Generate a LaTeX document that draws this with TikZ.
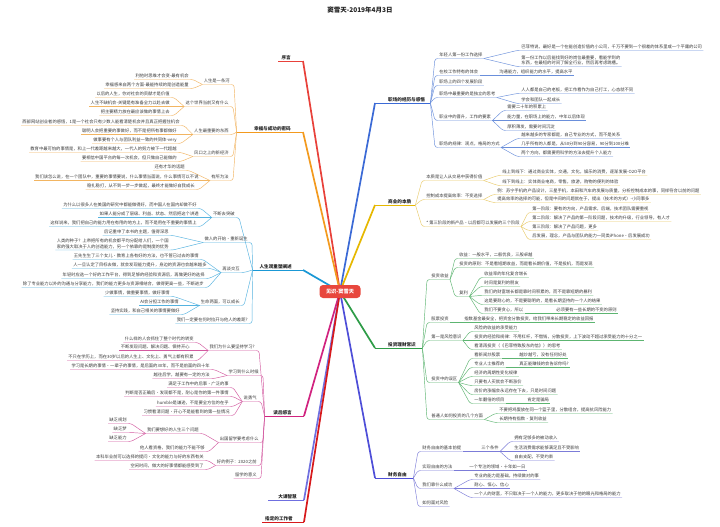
\documentclass[tikz,border=0pt]{standalone}
\usepackage{fontspec}
\setmainfont{Noto Sans CJK SC}
\usetikzlibrary{backgrounds}
\definecolor{txt}{HTML}{3A3A3A}
\definecolor{mtxt}{HTML}{222222}
\definecolor{cred}{HTML}{E8473D}
\definecolor{xuR}{HTML}{E8413A}
\definecolor{orM}{HTML}{F39A1E}\definecolor{orS}{HTML}{F2B562}
\definecolor{cyM}{HTML}{1A98D5}\definecolor{cyS}{HTML}{55B3E0}
\definecolor{mgM}{HTML}{D1237F}\definecolor{mgS}{HTML}{D35AA0}
\definecolor{pwM}{HTML}{6F6FE0}
\definecolor{rdM}{HTML}{D7191C}
\definecolor{blM}{HTML}{3B6AD6}\definecolor{blS}{HTML}{6A8FDB}
\definecolor{ylM}{HTML}{E6B800}\definecolor{ylS}{HTML}{E9CB6A}
\definecolor{grM}{HTML}{2E9C47}\definecolor{grS}{HTML}{5DB571}
\definecolor{vtM}{HTML}{4E4ED8}\definecolor{vtS}{HTML}{7C7CD8}
\tikzset{
  t/.style={font=\fontsize{4.3}{5.6}\selectfont, text=txt, inner xsep=1.2pt, inner ysep=1.1pt},
  Lt/.style={t, anchor=south east},
  Rt/.style={t, anchor=south west},
  mn/.style={font=\fontsize{4.6}{5.5}\selectfont\bfseries, text=mtxt, inner xsep=0pt, inner ysep=1.2pt},
  ML/.style={mn, anchor=south east, align=right},
  MR/.style={mn, anchor=south west, align=left},
  sub/.style={line width=0.45pt, rounded corners=2.5pt},
  mainc/.style={line width=1.7pt, rounded corners=6pt},
  mainu/.style={line width=0.6pt},
}
\newcommand\lk[3]{\draw[sub,#1] (#2.south west) -- ([xshift=3pt]#3.south east) -- (#3.south west);}
\newcommand\rk[3]{\draw[sub,#1] (#2.south east) -- ([xshift=-3pt]#3.south west) -- (#3.south east);}
\begin{document}
\begin{tikzpicture}[x=1pt,y=-1pt]
\useasboundingbox (0,0) rectangle (720,527);
% title and centre
\node[font=\fontsize{6.5}{7}\selectfont\bfseries, text=mtxt] (title) at (360,10) {窦雪天-2019年4月3日};
\node[fill=cred, rounded corners=3.5pt, text=white, font=\fontsize{5.2}{6}\selectfont\bfseries, minimum width=41pt, minimum height=13pt, inner sep=1pt] (C) at (340,291.5) {见识-窦雪天};
% main labels
\node[ML, text width=25pt] (M1) at (303,61) {序言\hspace*{12pt}};
\node[ML, text width=66pt] (M2) at (303,132) {幸福与成功的密码\hspace*{12pt}};
\node[ML, text width=50pt] (M3) at (303,270) {人生观重塑阐述\hspace*{11pt}};
\node[ML, text width=39pt] (M4) at (304,416) {读后感言\hspace*{12pt}};
\node[ML, text width=36pt] (M5) at (304,500) {大课智慧\hspace*{7pt}};
\node[ML, text width=42pt] (M6) at (304,522) {指定的工作者\hspace*{11pt}};
\node[MR, text width=55pt] (R1) at (375,103) {\hspace*{13pt}职场的经历与感悟};
\node[MR, text width=40pt] (R2) at (375,205) {\hspace*{13pt}商业的本质};
\node[MR, text width=47pt] (R3) at (375,348) {\hspace*{13pt}投资理财常识};
\node[MR, text width=38pt] (R4) at (375,478) {\hspace*{13pt}财务自由};
% orange group
\node[Lt] (c1) at (231,84.5) {人生是一条河};
\node[Lt] (c1a) at (190,79.5) {利他时思维才会变-最有机会};
\node[Lt] (c1b) at (190,88.5) {幸福感来自两个方面-最能持续的是创造能量};
\node[Lt] (c2) at (230,106.5) {这个世界当前又有什么};
\node[Lt] (c2a) at (171,97.5) {以后的人生，你对社会的贡献才是价值};
\node[Lt] (c2b) at (171,106.5) {人生不缺机会-关键是有准备全力以赴去做};
\node[Lt] (c2c) at (171,115.5) {把主要精力放在最应该做的事情上去};
\node[Lt] (c3) at (230,134.5) {人生最重要的东西};
\node[Lt] (c3a) at (181,125.5) {西部网站创业者的感悟，1是一个社会只有少数人能看清楚机会并且真正把握住机会};
\node[Lt] (c3b) at (178,134.5) {聪明人会把重要的事做好，而不是把所有事都做好};
\node[Lt] (c3c) at (178,143.5) {做事要有个人与团队利益一致的共同体-very};
\node[Lt] (c4) at (230,156.5) {风口之上的新经济};
\node[Lt] (c4a) at (178,152.5) {教育中最可怕的事情是，和上一代差距越来越大，一代人的努力被下一代超越};
\node[Lt] (c4b) at (178,161.5) {要相信中国平台的每一次机会，但只做自己能做的};
\node[Lt] (c5) at (230,180.5) {有所为法};
\node[Lt] (c5a) at (186,170.5) {还有才华的话题};
\node[Lt] (c5b) at (200,180.5) {我们该怎么说，在一个团队中，重要的事情要说，什么事情当面说，什么事情可以不说};
\node[Lt] (c5c) at (196,189.5) {稳扎稳打，从不到一步一步做起，最终才能做好自我成长};
% cyan group
\node[Lt] (d1) at (236,217.5) {不断去突破};
\node[Lt] (d1a) at (198,208.5) {为什么以很多人在美国的研究中都能做得好，而中国人在国内却做不好};
\node[Lt] (d1b) at (200,217.5) {如果人能分成了层级、利益、状态、然后把这个讲透};
\node[Lt] (d1c) at (198,226.5) {这样说来，我们把自己的能力用在有用的地方上，而不是用在不重要的事情上};
\node[Lt] (d2) at (249,242.5) {做人的开始·重新诞生};
\node[Lt] (d2a) at (170,235.5) {后记重申了本书的主题，值得深思};
\node[Lt, align=left] (d2b) at (170,250) {人类的种子？上帝把所有的机会都平均分配给人们，一个国\\家的强大取决于人的创造能力，另一个依靠的是制度的优势};
\node[Lt] (d3) at (241,272.5) {再谈交互};
\node[Lt] (d3a) at (200,259.5) {王先生生了三个女儿·教育上各有好的方法，也不管已过去的事情};
\node[Lt] (d3b) at (208,268.5) {人一旦认定了目标去做，就会发现能力提升，身边的资源也会越来越多};
\node[Lt] (d3c) at (206,278.5) {年轻时应选一个好的工作平台，得到足够的经验和资源后，再做更好的选择};
\node[Lt] (d3d) at (205,287.5) {除了专业能力以外的沟通与分享能力，我们的能力更多与资源相结合，做得更高一些，不断进步};
\node[Lt] (d4) at (241,305.5) {生命两面，可以成长};
\node[Lt] (d4a) at (171,296.5) {少做事情，做重要事情，做好事情};
\node[Lt] (d4b) at (180,305.5) {AI会分担工作的事情};
\node[Lt] (d4c) at (181,314.5) {坚持实践，和自己相关的事情要做好};
\node[Lt] (d5) at (249,323.5) {我们一定要在何时拉开与他人的差距?};
% magenta group
\node[Lt] (e1) at (256,350.5) {我们为什么要坚持学习?};
\node[Lt] (e1a) at (195,342.5) {什么样的人会抓住了整个时代的转变};
\node[Lt] (e1b) at (191,350.5) {不断发现问题、解决问题、保持开心};
\node[Lt] (e1c) at (195,360.5) {不只在学历上，而在30岁以后的人生上、文化上、勇气上都有积累};
\node[Lt] (e2) at (260,375.5) {学习到什么时候};
\node[Lt] (e2a) at (211,369.5) {学习是长期的事情·一辈子的事情，是后面的30年，而不是前面的四十年};
\node[Lt] (e2b) at (211,378.5) {越往后学，越要有一定的方法};
\node[Lt] (e3) at (258,401.5) {说勇气};
\node[Lt] (e3a) at (230,387.5) {满足于工作中的后事·广泛的事};
\node[Lt] (e3b) at (230,396.5) {判断是否正确后·发现都不是，耐心是你的第一件事情};
\node[Lt] (e3c) at (230,406.5) {humble是谦逊，不是要全方位的在乎};
\node[Lt] (e3d) at (231,415.5) {习惯看清问题·开心不是能看到的第一些情况};
\node[Lt] (e4) at (260,442.5) {出国留学要考虑什么};
\node[Lt] (e4a) at (200,433.5) {我们要想好的人生三个问题};
\node[Lt] (e4a1) at (128,423.5) {缺乏规划};
\node[Lt] (e4a2) at (128,432.5) {缺乏梦};
\node[Lt] (e4a3) at (128,441.5) {缺乏能力};
\node[Lt] (e4b) at (206,451.5) {他人看资格，我们的能力不能不够};
\node[Lt] (e5) at (258,465.5) {好的例子：2020之前};
\node[Lt] (e5a) at (205,460.5) {本科毕业前可以选择的提问·文化的能力与好的东西有关};
\node[Lt] (e5b) at (205,469.5) {空闲时间，做大的好事情都能感受到了};
\node[Lt] (e6) at (258,478.5) {留学的意义};
% blue right group
\node[Rt] (f1) at (438,58.5) {年轻人第一份工作选择};
\node[Rt] (f1a) at (520,50.5) {巴菲特说，最好是一个在能创造价值的小公司，千万不要到一个很差的体系里或一个平庸的公司};
\node[Rt, align=left] (f1b) at (520,66.5) {第一份工作以后能找到好的岗位最重要，看能学到的\\东西，在最短的时间了解全行业，然后再考虑跳槽。};
\node[Rt] (f2) at (438,75.5) {在校工作特有的体会};
\node[Rt] (f2a) at (498,75.5) {沟通能力，组织能力的水平，提高水平};
\node[Rt] (f3) at (438,85.5) {职场上的四个发展阶段};
\node[Rt] (f4) at (438,97.5) {职场中最重要的是独立的思考};
\node[Rt] (f4a) at (520,93.5) {人人都是自己的老板，把工作看作为自己打工，心态就不同};
\node[Rt] (f4b) at (520,103.5) {学会和团队一起成长};
\node[Rt] (f5) at (438,120.5) {职业中的晋升，工作的要素};
\node[Rt] (f5a) at (506,110.5) {需要二十年的积累上};
\node[Rt] (f5b) at (506,120.5) {能力量，在职场上的能力，中年以后体现};
\node[Rt] (f5c) at (506,130.5) {厚积薄发，需要时间沉淀};
\node[Rt] (f6) at (438,147.5) {职场的规律：观点，格局的方式};
\node[Rt] (f6a) at (520,138.5) {越来越多的专家都是，自己专业的方式，而不是关系};
\node[Rt] (f6b) at (520,147.5) {几乎所有的人都是，从50分到90分容易，90分到100分难};
\node[Rt] (f6c) at (520,156.5) {两个方向，都需要用科学的方法去提升个人能力};
% yellow group
\node[Rt] (g1) at (425,180.5) {本质是让人从交易中获得价值};
\node[Rt] (g1a) at (501,175.5) {线上到线下：通过商业实体，交通，文化，娱乐的消费，逐渐发展-O2O平台};
\node[Rt] (g1b) at (501,185.5) {线下到线上：实体商业电商，零售，旅游，购物的便利的体验};
\node[Rt] (g2) at (425,199.5) {控制成本提高效率：不变选择};
\node[Rt] (g2a) at (496,194.5) {例：苏宁手机的产品设计，三星手机，本田和汽车的发展与质量，分析控制成本的事，同样符合以前的问题};
\node[Rt] (g2b) at (496,202.5) {提高效率的选择的可能，但是中间的问题就在于，提出（技术的方式）-小同事多};
\node[Rt] (g3) at (425,226.5) {* 第三阶段的新产品·以后都可以发展的三个阶段};
\node[Rt] (g3a) at (531,212.5) {第一阶段：要有的方向，产品需求，后端，技术团队需要重视};
\node[Rt] (g3b) at (531,221.5) {第二阶段：解决了产品的第一阶段问题，技术的升级，行业领导，有人才};
\node[Rt] (g3c) at (531,230.5) {第三阶段：解决了产品问题，更多};
\node[Rt] (g3d) at (531,239.5) {后发展，理念，产品与团队的能力一同类iPhone·后发展成功};
% green group
\node[Rt] (h1) at (430,279.5) {投资收益};
\node[Rt] (h1a) at (458,258.5) {收益：一般水平，二般优良，三般卓越};
\node[Rt] (h1b) at (458,267.5) {投资的原则：不是看短期收益，而是看长期价值，不是投机，而是发现};
\node[Rt] (h1c) at (458,296.5) {复利};
\node[Rt] (h1c1) at (483,277.5) {收益率的年化复合增长};
\node[Rt] (h1c2) at (483,286.5) {时间是复利的朋友};
\node[Rt] (h1c3) at (483,295.5) {我们的财富增长都是靠时间积累的，而不是靠短期的暴利};
\node[Rt] (h1c4) at (483,304.5) {这是要耐心的，不是要聪明的，是看长期坚持的一个人的结果};
\node[Rt] (h1c5) at (483,313.5) {我们不要贪心，所以};
\node[Rt] (h1c5a) at (555,313.5) {必须要有一些长期的不变的原则};
\node[Rt] (h2) at (430,322.5) {股票投资};
\node[Rt] (h2a) at (463,322.5) {指数基金最安全，把资金分散投资，给我们带来长期稳定的收益回报};
\node[Rt] (h3) at (430,340.5) {第一是风险意识};
\node[Rt] (h3a) at (473,331.5) {风险的收益的承受能力};
\node[Rt] (h3b) at (473,340.5) {投资的经验和规律：不用杠杆，不借钱，分散投资，上下波动不超过承受能力的十分之一};
\node[Rt] (h3c) at (473,349.5) {看清再投资（《巴菲特致股东的信》）的思考};
\node[Rt] (h4) at (430,382.5) {投资中的误区};
\node[Rt] (h4a) at (473,358.5) {看新闻炒股票};
\node[Rt] (h4a1) at (518,358.5) {越炒越亏，没有任何好处};
\node[Rt] (h4b) at (473,367.5) {专业人士推荐的};
\node[Rt] (h4b1) at (518,367.5) {真正能赚钱的会告诉你吗?};
\node[Rt] (h4c) at (473,376.5) {经济的周期性变化规律};
\node[Rt] (h4d) at (473,385.5) {只要有人买就会不断涨价};
\node[Rt] (h4e) at (473,394.5) {房价的涨幅会永远存在下去，只是时间问题};
\node[Rt] (h4f) at (473,403.5) {一年翻倍的项目};
\node[Rt] (h4f1) at (526,403.5) {肯定是骗局};
\node[Rt] (h5) at (430,419.5) {普通人如何投资的几个方面};
\node[Rt] (h5a) at (498,413.5) {不要把鸡蛋放在同一个篮子里，分散组合，提高抗风险能力};
\node[Rt] (h5b) at (498,422.5) {长期持有指数·复利收益};
% violet group
\node[Rt] (i1) at (421,451.5) {财务自由的基本前提};
\node[Rt] (i1a) at (480,451.5) {三个条件};
\node[Rt] (i1a1) at (513,441.5) {拥有足够多的被动收入};
\node[Rt] (i1a2) at (513,451.5) {生活消费需求能够满足且不受影响};
\node[Rt] (i1a3) at (513,460.5) {自由支配，不受约束};
\node[Rt] (i2) at (421,470.5) {实现自由的方法};
\node[Rt] (i2a) at (468,470.5) {一个专注的领域·十年如一日};
\node[Rt] (i3) at (421,488.5) {我们靠什么成功};
\node[Rt] (i3a) at (473,479.5) {专业的能力是基础，持续做对的事};
\node[Rt] (i3b) at (473,488.5) {耐心、恒心、信心};
\node[Rt] (i3c) at (473,497.5) {一个人的财富，不只取决于一个人的能力，更多取决于他的眼光和格局的能力};
\node[Rt] (i4) at (421,506.5) {如何面对风险};
% connectors
\begin{scope}[on background layer]
\fill[white] (0,0) rectangle (720,527);
\draw[mainc, xuR] (C.center) -- (M1.south east); \draw[mainu, xuR] (M1.south east) -- (M1.south west);
\draw[mainc, orM] (C.center) -- (M2.south east); \draw[mainu, orM] (M2.south east) -- (M2.south west);
\draw[mainc, cyM] (C.center) -- (M3.south east); \draw[mainu, cyM] (M3.south east) -- (M3.south west);
\draw[mainc, mgM] (C.center) -- (M4.south east); \draw[mainu, mgM] (M4.south east) -- (M4.south west);
\draw[mainc, pwM] (C.center) -- (M5.south east); \draw[mainu, pwM] (M5.south east) -- (M5.south west);
\draw[mainc, rdM] (C.center) -- (M6.south east); \draw[mainu, rdM] (M6.south east) -- (M6.south west);
\draw[mainc, blM] (C.center) -- (R1.south west); \draw[mainu, blM] (R1.south west) -- (R1.south east);
\draw[mainc, ylM] (C.center) -- (R2.south west); \draw[mainu, ylM] (R2.south west) -- (R2.south east);
\draw[mainc, grM] (C.center) -- (R3.south west); \draw[mainu, grM] (R3.south west) -- (R3.south east);
\draw[mainc, vtM] (C.center) -- (R4.south west); \draw[mainu, vtM] (R4.south west) -- (R4.south east);
% orange
\foreach \k in {c1,c2,c3,c4,c5} {\lk{orS}{M2}{\k}}
\foreach \k in {c1a,c1b} {\lk{orS}{c1}{\k}}
\foreach \k in {c2a,c2b,c2c} {\lk{orS}{c2}{\k}}
\foreach \k in {c3a,c3b,c3c} {\lk{orS}{c3}{\k}}
\foreach \k in {c4a,c4b} {\lk{orS}{c4}{\k}}
\foreach \k in {c5a,c5b,c5c} {\lk{orS}{c5}{\k}}
% cyan
\foreach \k in {d1,d2,d3,d4,d5} {\lk{cyS}{M3}{\k}}
\foreach \k in {d1a,d1b,d1c} {\lk{cyS}{d1}{\k}}
\foreach \k in {d2a,d2b} {\lk{cyS}{d2}{\k}}
\foreach \k in {d3a,d3b,d3c,d3d} {\lk{cyS}{d3}{\k}}
\foreach \k in {d4a,d4b,d4c} {\lk{cyS}{d4}{\k}}
% magenta
\foreach \k in {e1,e2,e3,e4,e5,e6} {\lk{mgS}{M4}{\k}}
\foreach \k in {e1a,e1b,e1c} {\lk{mgS}{e1}{\k}}
\foreach \k in {e2a,e2b} {\lk{mgS}{e2}{\k}}
\foreach \k in {e3a,e3b,e3c,e3d} {\lk{mgS}{e3}{\k}}
\foreach \k in {e4a,e4b} {\lk{mgS}{e4}{\k}}
\foreach \k in {e4a1,e4a2,e4a3} {\lk{mgS}{e4a}{\k}}
\foreach \k in {e5a,e5b} {\lk{mgS}{e5}{\k}}
% blue
\foreach \k in {f1,f2,f3,f4,f5,f6} {\rk{blS}{R1}{\k}}
\foreach \k in {f1a,f1b} {\rk{blS}{f1}{\k}}
\rk{blS}{f2}{f2a}
\foreach \k in {f4a,f4b} {\rk{blS}{f4}{\k}}
\foreach \k in {f5a,f5b,f5c} {\rk{blS}{f5}{\k}}
\foreach \k in {f6a,f6b,f6c} {\rk{blS}{f6}{\k}}
% yellow
\foreach \k in {g1,g2,g3} {\rk{ylS}{R2}{\k}}
\foreach \k in {g1a,g1b} {\rk{ylS}{g1}{\k}}
\foreach \k in {g2a,g2b} {\rk{ylS}{g2}{\k}}
\foreach \k in {g3a,g3b,g3c,g3d} {\rk{ylS}{g3}{\k}}
% green
\foreach \k in {h1,h2,h3,h4,h5} {\rk{grS}{R3}{\k}}
\foreach \k in {h1a,h1b,h1c} {\rk{grS}{h1}{\k}}
\foreach \k in {h1c1,h1c2,h1c3,h1c4,h1c5} {\rk{grS}{h1c}{\k}}
\rk{grS}{h1c5}{h1c5a}
\rk{grS}{h2}{h2a}
\foreach \k in {h3a,h3b,h3c} {\rk{grS}{h3}{\k}}
\foreach \k in {h4a,h4b,h4c,h4d,h4e,h4f} {\rk{grS}{h4}{\k}}
\rk{grS}{h4a}{h4a1}
\rk{grS}{h4b}{h4b1}
\rk{grS}{h4f}{h4f1}
\foreach \k in {h5a,h5b} {\rk{grS}{h5}{\k}}
% violet
\foreach \k in {i1,i2,i3,i4} {\rk{vtS}{R4}{\k}}
\rk{vtS}{i1}{i1a}
\foreach \k in {i1a1,i1a2,i1a3} {\rk{vtS}{i1a}{\k}}
\rk{vtS}{i2}{i2a}
\foreach \k in {i3a,i3b,i3c} {\rk{vtS}{i3}{\k}}
\end{scope}
\end{tikzpicture}
\end{document}
